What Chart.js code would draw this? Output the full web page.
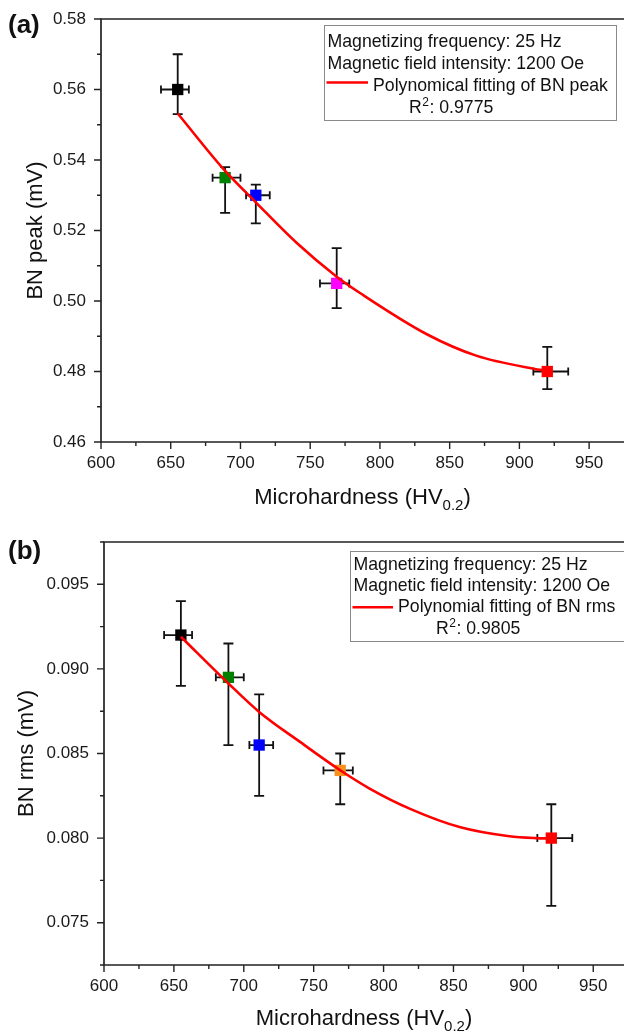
<!DOCTYPE html>
<html>
<head>
<meta charset="utf-8">
<script src="https://cdn.jsdelivr.net/npm/chart.js@4.4.1/dist/chart.umd.min.js"></script>
<style>
  body { margin: 0; background: #fff; }
  canvas { position: absolute; left: 0; }
  #chartA { top: 0; }
  #chartB { top: 515px; }
</style>
</head>
<body>
<canvas id="chartA" width="624" height="515"></canvas>
<canvas id="chartB" width="624" height="520"></canvas>
<script>
var FONT = "'Liberation Sans', Arial, sans-serif";
Chart.defaults.font.family = FONT;

// microhardness of the five samples (shared by both panels)
var hardness = [655, 689, 711, 769, 920];
var hardnessErrLow = [12, 9, 7, 12, 10];
var hardnessErrHigh = [8, 11, 10, 9, 15];

// panel (a) - BN peak
var bnPeak = [0.560, 0.535, 0.530, 0.505, 0.480];
var bnPeakErrUp = [0.010, 0.003, 0.003, 0.010, 0.007];
var bnPeakErrDown = [0.007, 0.010, 0.008, 0.007, 0.005];
var peakColors = ['#000000', '#008000', '#0000ff', '#ff00ff', '#ff0000'];
var peakFitX = [655, 689, 711, 740, 769, 786, 834, 869, 910, 920];
var peakFitY = [0.5532, 0.5369, 0.5280, 0.5166, 0.5069, 0.5022, 0.4905, 0.4845, 0.4808, 0.4802];

// panel (b) - BN rms
var bnRms = [0.0920, 0.0895, 0.0855, 0.0840, 0.0800];
var bnRmsErrUp = [0.002, 0.002, 0.003, 0.001, 0.002];
var bnRmsErrDown = [0.003, 0.004, 0.003, 0.002, 0.004];
var rmsColors = ['#000000', '#008000', '#0000ff', '#f7901e', '#ff0000'];
var rmsFitX = [655, 689, 711, 740, 769, 790, 819, 855, 890, 909, 920];
var rmsFitY = [0.0919, 0.08914, 0.08746, 0.0857, 0.08401, 0.08293, 0.08173, 0.08064, 0.08011, 0.0800, 0.07998];

// tick labels
var xTickLabels = ['600', '650', '700', '750', '800', '850', '900', '950'];
var peakTickLabels = ['0.46', '0.48', '0.50', '0.52', '0.54', '0.56', '0.58'];
var rmsTickLabels = ['0.075', '0.080', '0.085', '0.090', '0.095'];

function fmtX(v) { return String(Math.round(v)); }

function makeDeco(cfg) {
  return {
    id: 'deco' + cfg.label,
    beforeDatasetsDraw: function(chart) {
      var ctx = chart.ctx, xs = chart.scales.x, ys = chart.scales.y;
      ctx.save();
      ctx.strokeStyle = '#111';
      ctx.lineWidth = 1.8;
      ctx.beginPath();
      cfg.x.forEach(function(xv, i) {
        var px = xs.getPixelForValue(xv), py = ys.getPixelForValue(cfg.y[i]);
        var x0 = xs.getPixelForValue(xv - cfg.xLow[i]), x1 = xs.getPixelForValue(xv + cfg.xHigh[i]);
        var y0 = ys.getPixelForValue(cfg.y[i] + cfg.yUp[i]), y1 = ys.getPixelForValue(cfg.y[i] - cfg.yDown[i]);
        ctx.moveTo(x0, py); ctx.lineTo(x1, py);
        ctx.moveTo(x0, py - 4); ctx.lineTo(x0, py + 4);
        ctx.moveTo(x1, py - 4); ctx.lineTo(x1, py + 4);
        ctx.moveTo(px, y0); ctx.lineTo(px, y1);
        ctx.moveTo(px - 5, y0); ctx.lineTo(px + 5, y0);
        ctx.moveTo(px - 5, y1); ctx.lineTo(px + 5, y1);
      });
      ctx.stroke();
      ctx.restore();
    },
    afterDraw: function(chart) {
      var ctx = chart.ctx, a = chart.chartArea, xs = chart.scales.x, ys = chart.scales.y;
      ctx.save();
      // frame
      ctx.strokeStyle = '#222';
      ctx.lineWidth = 1.7;
      ctx.beginPath();
      ctx.moveTo(a.right, a.top); ctx.lineTo(a.left, a.top);
      ctx.lineTo(a.left, a.bottom); ctx.lineTo(a.right, a.bottom);
      ctx.stroke();
      // ticks
      ctx.lineWidth = 1.4;
      ctx.beginPath();
      xs.ticks.forEach(function(t) {
        var px = xs.getPixelForValue(t.value);
        if (px > a.right - 2) return;
        var len = xTickLabels.indexOf(fmtX(t.value)) >= 0 ? 7 : 4;
        ctx.moveTo(px, a.bottom); ctx.lineTo(px, a.bottom + len);
      });
      ys.ticks.forEach(function(t) {
        var py = ys.getPixelForValue(t.value);
        var len = cfg.yLabels.indexOf(t.value.toFixed(cfg.dec)) >= 0 ? 7 : 4;
        ctx.moveTo(a.left, py); ctx.lineTo(a.left - len, py);
      });
      ctx.stroke();

      ctx.fillStyle = '#111';
      // y title
      ctx.save();
      ctx.translate(cfg.yTitleX, (a.top + a.bottom) / 2);
      ctx.rotate(-Math.PI / 2);
      ctx.font = '22px ' + FONT;
      ctx.textAlign = 'center';
      ctx.textBaseline = 'alphabetic';
      ctx.fillText(cfg.yTitle, 0, 0);
      ctx.restore();

      // x title with subscript
      ctx.font = '22px ' + FONT;
      var main = 'Microhardness (HV', sub = '0.2', end = ')';
      var wMain = ctx.measureText(main).width, wEnd = ctx.measureText(end).width;
      ctx.font = '15px ' + FONT;
      var wSub = ctx.measureText(sub).width;
      var tx = (a.left + a.right) / 2 - (wMain + wSub + wEnd) / 2;
      ctx.textAlign = 'left';
      ctx.textBaseline = 'alphabetic';
      ctx.font = '22px ' + FONT;
      ctx.fillText(main, tx, cfg.xTitleY);
      ctx.font = '15px ' + FONT;
      ctx.fillText(sub, tx + wMain, cfg.xTitleY + 6);
      ctx.font = '22px ' + FONT;
      ctx.fillText(end, tx + wMain + wSub, cfg.xTitleY);

      // panel label
      ctx.font = 'bold 26px ' + FONT;
      ctx.textBaseline = 'middle';
      ctx.fillText(cfg.label, 8, cfg.labelY);

      // legend box
      var L = cfg.legend;
      ctx.strokeStyle = '#8a8a8a';
      ctx.lineWidth = 1;
      ctx.strokeRect(L.left, L.top, L.right - L.left, L.bottom - L.top);
      ctx.font = '17.7px ' + FONT;
      ctx.textBaseline = 'alphabetic';
      ctx.fillStyle = '#111';
      ctx.fillText(L.lines[0], L.textX, L.base[0]);
      ctx.fillText(L.lines[1], L.textX, L.base[1]);
      ctx.strokeStyle = '#ff0000';
      ctx.lineWidth = 2.5;
      ctx.beginPath();
      ctx.moveTo(L.left + 2, L.lineY); ctx.lineTo(L.lineEnd, L.lineY);
      ctx.stroke();
      ctx.fillText(L.lines[2], L.lineEnd + 5, L.base[2]);
      ctx.fillText('R', L.rX, L.base[3]);
      var wR = ctx.measureText('R').width;
      ctx.font = '12px ' + FONT;
      ctx.fillText('2', L.rX + wR + 0.5, L.base[3] - 7);
      var w2 = ctx.measureText('2').width;
      ctx.font = '17.7px ' + FONT;
      ctx.fillText(': ' + L.r2, L.rX + wR + w2 + 1, L.base[3]);
      ctx.restore();
    }
  };
}

function buildChart(canvasId, opt) {
  var fitData = opt.fitX.map(function(x, i) { return { x: x, y: opt.fitY[i] }; });
  var ptData = hardness.map(function(x, i) { return { x: x, y: opt.y[i] }; });
  var hidden = 'rgba(0,0,0,0)';
  return new Chart(document.getElementById(canvasId), {
    type: 'scatter',
    data: {
      datasets: [
        {
          label: 'fit', data: fitData, showLine: true, fill: false,
          borderColor: '#ff0000', borderWidth: 2.6, pointRadius: 0,
          cubicInterpolationMode: 'monotone', order: 0
        },
        {
          label: 'samples', data: ptData, showLine: false,
          pointStyle: 'rect', pointRadius: 8,
          pointBackgroundColor: opt.colors, pointBorderColor: opt.colors,
          pointBorderWidth: 0, order: 1
        }
      ]
    },
    options: {
      responsive: false,
      animation: false,
      devicePixelRatio: 1,
      layout: { autoPadding: false, padding: { top: opt.padTop, right: 0, left: 0, bottom: 0 } },
      plugins: { legend: { display: false }, tooltip: { enabled: false } },
      scales: {
        x: {
          type: 'linear', min: 600, max: opt.xMax,
          afterFit: function(s) { s.height = opt.xAxisH; s.paddingLeft = 0; s.paddingRight = 0; },
          afterBuildTicks: function(s) {
            var t = [];
            for (var v = 600; v <= opt.xMax; v += 25) t.push({ value: v });
            s.ticks = t;
          },
          grid: { display: true, drawOnChartArea: false, drawTicks: true, tickLength: 11, tickColor: hidden, color: hidden },
          border: { display: false },
          ticks: {
            autoSkip: false, maxRotation: 0, padding: 0,
            font: { size: 17 }, color: '#1a1a1a',
            callback: function(v) { var s = fmtX(v); return xTickLabels.indexOf(s) >= 0 ? s : ''; }
          }
        },
        y: {
          type: 'linear', min: opt.yMin, max: opt.yMax,
          afterFit: function(s) { s.width = opt.yAxisW; s.paddingTop = 0; s.paddingBottom = 0; },
          grid: { display: true, drawOnChartArea: false, drawTicks: true, tickLength: 15, tickColor: hidden, color: hidden },
          border: { display: false },
          ticks: {
            stepSize: opt.yStep, autoSkip: false, padding: 0,
            font: { size: 17 }, color: '#1a1a1a',
            callback: function(v) { var s = v.toFixed(opt.dec); return opt.yLabels.indexOf(s) >= 0 ? s : ''; }
          }
        }
      }
    },
    plugins: [makeDeco({
      label: opt.label, labelY: opt.labelY,
      x: hardness, y: opt.y, xLow: hardnessErrLow, xHigh: hardnessErrHigh,
      yUp: opt.errUp, yDown: opt.errDown,
      yLabels: opt.yLabels, dec: opt.dec,
      yTitle: opt.yTitle, yTitleX: opt.yTitleX, xTitleY: opt.xTitleY,
      legend: opt.legend
    })]
  });
}

buildChart('chartA', {
  label: '(a)', labelY: 26,
  y: bnPeak, errUp: bnPeakErrUp, errDown: bnPeakErrDown, colors: peakColors,
  fitX: peakFitX, fitY: peakFitY,
  yMin: 0.46, yMax: 0.58, yStep: 0.01, dec: 2, yLabels: peakTickLabels,
  xMax: 975, padTop: 19, xAxisH: 73, yAxisW: 101,
  yTitle: 'BN peak (mV)', yTitleX: 41.5, xTitleY: 504,
  legend: {
    left: 324.5, top: 25.5, right: 616.5, bottom: 120.5,
    textX: 327.5, base: [46.5, 68.5, 90.5, 113], lineY: 82.5, lineEnd: 368, rX: 409,
    lines: ['Magnetizing frequency: 25 Hz', 'Magnetic field intensity: 1200 Oe', 'Polynomical fitting of BN peak'],
    r2: '0.9775'
  }
});

buildChart('chartB', {
  label: '(b)', labelY: 37,
  y: bnRms, errUp: bnRmsErrUp, errDown: bnRmsErrDown, colors: rmsColors,
  fitX: rmsFitX, fitY: rmsFitY,
  yMin: 0.0725, yMax: 0.0975, yStep: 0.0025, dec: 3, yLabels: rmsTickLabels,
  xMax: 972, padTop: 27, xAxisH: 70, yAxisW: 104,
  yTitle: 'BN rms (mV)', yTitleX: 32.5, xTitleY: 510,
  legend: {
    left: 350.5, top: 36.5, right: 630, bottom: 126.5,
    textX: 353.5, base: [55, 75.7, 97.3, 119], lineY: 92.3, lineEnd: 393, rX: 436,
    lines: ['Magnetizing frequency: 25 Hz', 'Magnetic field intensity: 1200 Oe', 'Polynomial fitting of BN rms'],
    r2: '0.9805'
  }
});
</script>
</body>
</html>
